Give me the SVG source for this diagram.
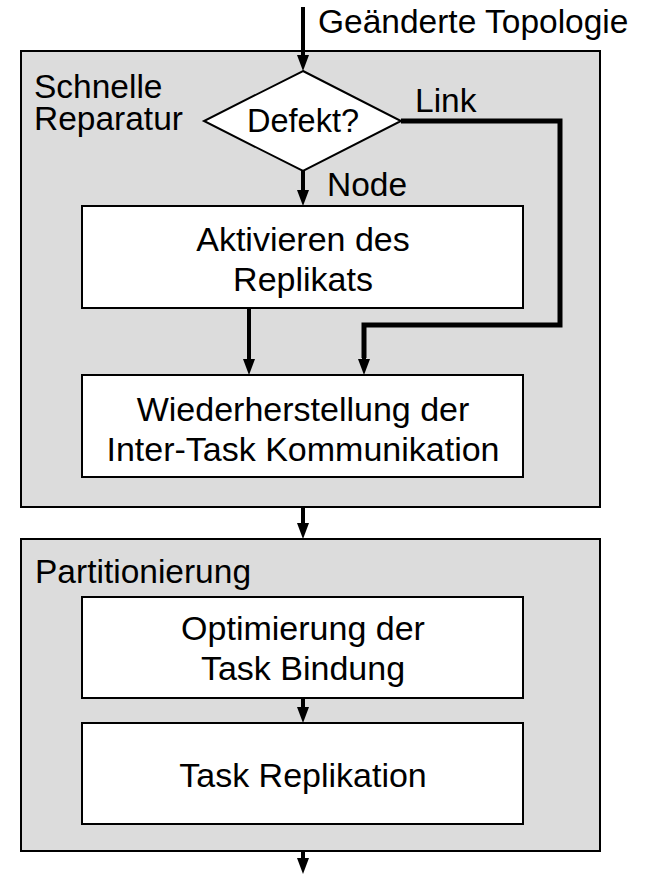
<svg xmlns="http://www.w3.org/2000/svg" width="656" height="874" viewBox="0 0 656 874">
  <defs>
    <!-- arrowhead; starts where the shaft ends and points forward 16px -->
    <marker id="head" markerUnits="userSpaceOnUse" markerWidth="17" markerHeight="13" refX="0" refY="6" orient="auto">
      <path d="M0,0 L16,6 L0,12 Z" fill="#000"/>
    </marker>
    <style>
      .panel { fill: #dcdcdc; stroke: #000; stroke-width: 2; }
      .box { fill: #fff; stroke: #000; stroke-width: 2; }
      .txt { font-family: "Liberation Sans", Arial, sans-serif; font-size: 34px; fill: #000; }
      .lbl { font-size: 33.5px; }
      .mid { text-anchor: middle; }
      .flow { fill: none; stroke: #000; stroke-width: 4; marker-end: url(#head); }
      .thick { fill: none; stroke: #000; stroke-width: 5; stroke-linejoin: miter; }
    </style>
  </defs>

  <!-- panels -->
  <g id="panel-repair">
    <rect class="panel" x="21" y="51" width="579" height="456"/>
    <text class="txt lbl" x="34" y="98">Schnelle</text>
    <text class="txt lbl" x="34" y="130">Reparatur</text>
  </g>
  <g id="panel-partition">
    <rect class="panel" x="21" y="539" width="579" height="312"/>
    <text class="txt lbl" x="35" y="583">Partitionierung</text>
  </g>

  <!-- nodes -->
  <g id="decision">
    <polygon class="box" points="303,71 401,121 303,171 204,121"/>
    <text class="txt mid" x="303" y="132" style="font-size:32.5px">Defekt?</text>
  </g>
  <g id="activate">
    <rect class="box" x="82" y="206" width="441" height="102"/>
    <text class="txt mid" x="303" y="251">Aktivieren des</text>
    <text class="txt mid" x="303" y="291">Replikats</text>
  </g>
  <g id="restore">
    <rect class="box" x="82" y="375" width="441" height="102"/>
    <text class="txt mid" x="303" y="421">Wiederherstellung der</text>
    <text class="txt mid" x="303" y="461">Inter-Task Kommunikation</text>
  </g>
  <g id="optimize">
    <rect class="box" x="82" y="597" width="441" height="101"/>
    <text class="txt mid" x="303" y="640">Optimierung der</text>
    <text class="txt mid" x="303" y="680">Task Bindung</text>
  </g>
  <g id="replicate">
    <rect class="box" x="82" y="723" width="441" height="101"/>
    <text class="txt mid" x="303" y="787">Task Replikation</text>
  </g>

  <!-- connectors -->
  <g id="connectors">
    <line class="flow" x1="303" y1="7" x2="303" y2="55"/>
    <line class="flow" x1="303" y1="171" x2="303" y2="190"/>
    <line class="flow" x1="249" y1="308" x2="249" y2="359"/>
    <path class="thick" d="M401,121 H560 V325 H364 V358"/>
    <line class="flow" x1="364" y1="356" x2="364" y2="359"/>
    <line class="flow" x1="303" y1="507" x2="303" y2="523"/>
    <line class="flow" x1="303" y1="698" x2="303" y2="707"/>
    <line class="flow" x1="303" y1="851" x2="303" y2="858"/>
    <text class="txt lbl" x="318" y="33">Geänderte Topologie</text>
    <text class="txt lbl" x="415" y="112">Link</text>
    <text class="txt lbl" x="327" y="196">Node</text>
  </g>
</svg>
